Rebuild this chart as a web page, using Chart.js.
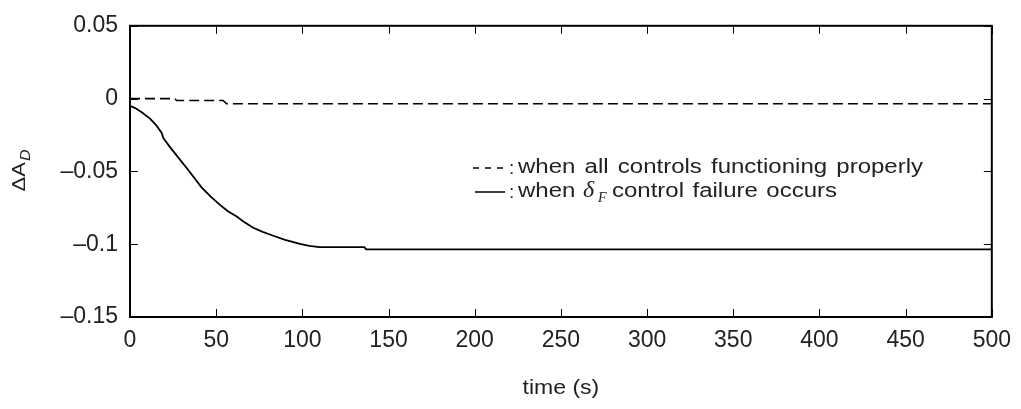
<!DOCTYPE html>
<html>
<head>
<meta charset="utf-8">
<script src="https://cdn.jsdelivr.net/npm/chart.js@4.4.1/dist/chart.umd.min.js"></script>
<style>
	html, body { margin: 0; padding: 0; background: #fff; }
	#wrap { width: 1021px; height: 409px; }
</style>
</head>
<body>
<div id="wrap"><canvas id="myChart" width="1021" height="409"></canvas></div>
<script>
// values
const xTicks = [0, 50, 100, 150, 200, 250, 300, 350, 400, 450, 500];
const yTicks = [0.05, 0, -0.05, -0.1, -0.15];

const dashTime = [0, 26, 27, 54, 56, 500];
const dashDelta = [0, 0, -0.0013, -0.0013, -0.0035, -0.0035];

const failTime = [0, 3, 7, 11.6, 15, 18.4, 19.3, 23, 27, 33.8, 41.5, 47, 52.2, 57, 61.9, 66, 71.5, 77, 83.1, 90, 98.6, 104, 110, 136, 137, 500];
const failDelta = [-0.005, -0.0065, -0.0095, -0.0137, -0.018, -0.0236, -0.027, -0.033, -0.039, -0.049, -0.061, -0.0675, -0.073, -0.0775, -0.081, -0.0845, -0.0887, -0.0915, -0.0942, -0.097, -0.0998, -0.1012, -0.102, -0.102, -0.1035, -0.1035];

const FONT = "'Liberation Sans', Arial, sans-serif";
const SERIF = "'Liberation Serif', 'DejaVu Serif', serif";
const TEXT = "#222";
const STRETCH = 1.2;

function toPoints(xs, ys) {
	return xs.map((x, i) => ({ x: x, y: ys[i] }));
}

function fmtY(v) {
	if (Math.abs(v) < 1e-9) return "0";
	const s = String(Math.round(v * 100) / 100);
	return s.replace("-", "\u2013");
}

// draws words so that they fill [x0, x1], glyphs a little wider like the source
function wideText(ctx, text, x0, x1, y) {
	const words = text.split(" ");
	const widths = words.map((w) => ctx.measureText(w).width * STRETCH);
	const sum = widths.reduce((a, b) => a + b, 0);
	const gap = words.length > 1 ? (x1 - x0 - sum) / (words.length - 1) : 0;
	let x = x0;
	words.forEach((w, i) => {
		ctx.save();
		ctx.translate(x, y);
		ctx.scale(STRETCH, 1);
		ctx.fillText(w, 0, 0);
		ctx.restore();
		x += widths[i] + gap;
	});
}

// frame, inward ticks on all four sides, legend and axis titles
const framePlugin = {
	id: "frame",
	afterDraw(chart) {
		const ctx = chart.ctx;
		const a = chart.chartArea;
		const xs = chart.scales.x;
		const ys = chart.scales.y;
		const tl = 8;
		ctx.save();
		ctx.strokeStyle = "#000";
		ctx.lineWidth = 1;
		ctx.beginPath();
		xTicks.forEach((t) => {
			const px = Math.round(xs.getPixelForValue(t)) + 0.5;
			ctx.moveTo(px, a.bottom); ctx.lineTo(px, a.bottom - tl);
			ctx.moveTo(px, a.top); ctx.lineTo(px, a.top + tl);
		});
		yTicks.forEach((t) => {
			const py = Math.round(ys.getPixelForValue(t)) + 0.5;
			ctx.moveTo(a.left, py); ctx.lineTo(a.left + tl, py);
			ctx.moveTo(a.right, py); ctx.lineTo(a.right - tl, py);
		});
		ctx.stroke();
		ctx.lineWidth = 2;
		ctx.strokeRect(a.left, a.top, a.right - a.left, a.bottom - a.top);

		// legend
		ctx.fillStyle = TEXT;
		ctx.textBaseline = "middle";
		ctx.textAlign = "left";
		ctx.lineWidth = 1.5;
		ctx.strokeStyle = "#000";
		const y1 = 167, y2 = 191;
		ctx.beginPath();
		[473, 485, 497].forEach((x) => { ctx.moveTo(x, y1 + 1); ctx.lineTo(x + 6, y1 + 1); });
		ctx.stroke();
		ctx.beginPath();
		ctx.moveTo(475, y2 + 1); ctx.lineTo(505, y2 + 1);
		ctx.stroke();
		ctx.font = "19px " + FONT;
		ctx.fillText(":", 509, y1 + 2);
		ctx.fillText(":", 509, y2 + 2);
		ctx.font = "20px " + FONT;
		wideText(ctx, "when all controls functioning properly", 518, 923, y1);
		wideText(ctx, "when", 518, 572, y2);
		ctx.font = "italic 24px " + SERIF;
		ctx.fillText("\u03b4", 583, y2);
		ctx.font = "italic 14px " + SERIF;
		ctx.fillText("F", 598, y2 + 7);
		ctx.font = "20px " + FONT;
		wideText(ctx, "control failure occurs", 612, 837, y2);

		// x title, centred under the plot
		const title = "time (s)";
		const tw = ctx.measureText(title).width * 1.15;
		ctx.save();
		ctx.translate((a.left + a.right) / 2 - tw / 2, 388);
		ctx.scale(1.15, 1);
		ctx.fillText(title, 0, 0);
		ctx.restore();

		// y title, rotated
		ctx.translate(20, 171);
		ctx.rotate(-Math.PI / 2);
		ctx.scale(1.15, 1);
		ctx.font = "19px " + FONT;
		const main = "\u0394A";
		const wMain = ctx.measureText(main).width;
		ctx.font = "italic 14px " + FONT;
		const wSub = ctx.measureText("D").width;
		const start = -(wMain + wSub) / 2;
		ctx.font = "19px " + FONT;
		ctx.fillText(main, start, 0);
		ctx.font = "italic 14px " + FONT;
		ctx.fillText("D", start + wMain + 1, 6);
		ctx.restore();
	},
};

const ctx = document.getElementById("myChart").getContext("2d");
new Chart(ctx, {
	type: "line",
	data: {
		datasets: [
			{
				label: "all controls functioning",
				data: toPoints(dashTime, dashDelta),
				borderColor: "#000",
				borderWidth: 1.6,
				borderDash: [10, 5],
				pointRadius: 0,
				tension: 0,
			},
			{
				label: "control failure",
				data: toPoints(failTime, failDelta),
				borderColor: "#000",
				borderWidth: 1.8,
				pointRadius: 0,
				tension: 0,
			},
		],
	},
	options: {
		responsive: false,
		animation: false,
		events: [],
		layout: { padding: { left: 0, right: 29, top: 16, bottom: 0 } },
		plugins: { legend: { display: false }, tooltip: { enabled: false } },
		scales: {
			x: {
				type: "linear",
				min: 0,
				max: 500,
				afterFit: (s) => { s.height = 92; },
				afterBuildTicks: (s) => { s.ticks = xTicks.map((v) => ({ value: v })); },
				grid: { display: false, drawTicks: false },
				border: { display: false },
				ticks: {
					padding: 10,
					maxRotation: 0,
					color: TEXT,
					font: { family: FONT, size: 23 },
					callback: (v) => String(v),
				},
			},
			y: {
				type: "linear",
				min: -0.15,
				max: 0.05,
				afterFit: (s) => { s.width = 130; },
				afterBuildTicks: (s) => { s.ticks = yTicks.map((v) => ({ value: v })); },
				grid: { display: false, drawTicks: false },
				border: { display: false },
				ticks: {
					padding: 12,
					color: TEXT,
					font: { family: FONT, size: 23 },
					callback: (v) => fmtY(v),
				},
			},
		},
	},
	plugins: [framePlugin],
});
</script>
</body>
</html>
